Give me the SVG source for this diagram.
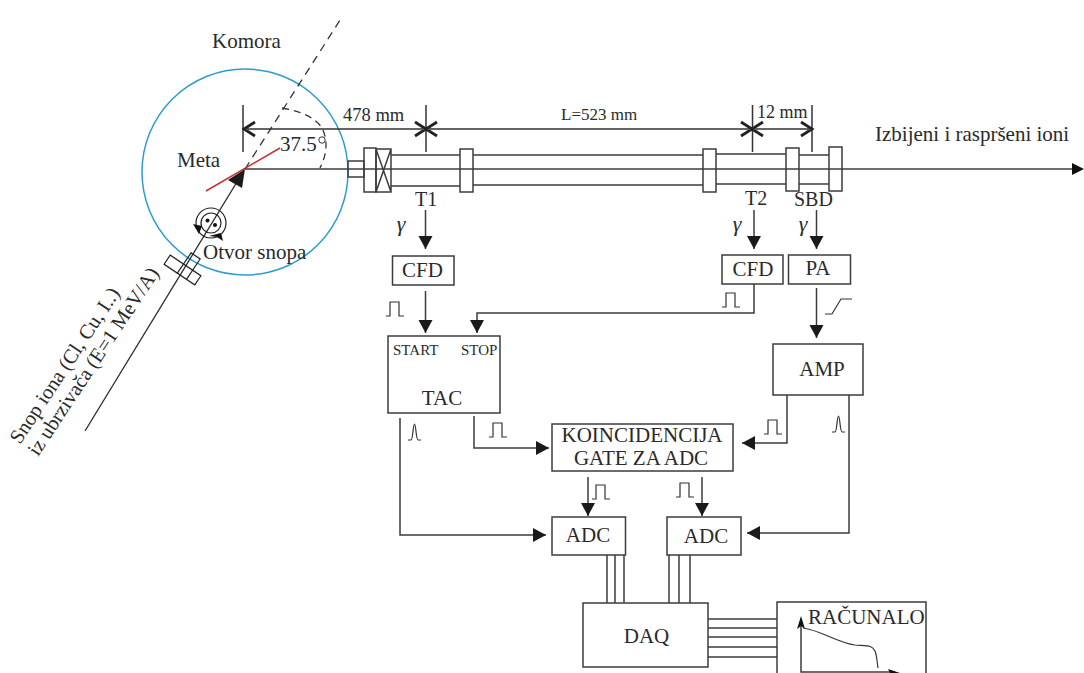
<svg xmlns="http://www.w3.org/2000/svg" width="1084" height="673" viewBox="0 0 1084 673">
<style>
text{font-family:"Liberation Serif","Times New Roman",serif;fill:#2a2a2a;font-size:21px}
.b{fill:#fff;stroke:#3c3c3c;stroke-width:1.5}
.n{fill:none;stroke:#3c3c3c;stroke-width:1.5}
.l{fill:none;stroke:#3c3c3c;stroke-width:1.5}
.a{fill:none;stroke:#3c3c3c;stroke-width:1.5;marker-end:url(#ah)}
.d{fill:none;stroke:#333;stroke-width:1.5}
.h{fill:none;stroke:#222;stroke-width:2.8}
.p{fill:none;stroke:#333;stroke-width:1.2}
.t{text-anchor:middle}
.s{font-size:15px}
.g{font-style:italic;font-size:22px;text-anchor:middle}
</style>
<defs>
<marker id="ah" markerUnits="userSpaceOnUse" markerWidth="15" markerHeight="15" refX="13" refY="7.500" orient="auto"><path d="M0,0.500L13,7.500L0,14.500Z" fill="#1a1a1a"/></marker>
<path id="pulse" d="M0,14H4V0H13V14H18"/>
<path id="peak" d="M0,16H3C5,16 5,0 6.500,0C8,0 8,16 10,16H13"/>
</defs>
<rect width="1084" height="673" fill="#fff"/>
<g id="chamber">
<circle cx="245" cy="172" r="103" fill="none" stroke="#2f9ccb" stroke-width="1.500"/>
<path d="M245,169L342,17" fill="none" stroke="#333" stroke-width="1.300" stroke-dasharray="8 6"/>
<path d="M282,108Q312,113 322,128Q331,146 320,168" fill="none" stroke="#333" stroke-width="1.300" stroke-dasharray="7 5"/>
<text x="212" y="48">Komora</text>
<text x="177" y="167">Meta</text>
<text x="280" y="151">37.5</text>
<circle cx="322" cy="140" r="3.200" fill="none" stroke="#333" stroke-width="1"/>
<text x="203" y="259">Otvor snopa</text>
</g>
<g id="beam-line">
<path d="M85,431L240,177" fill="none" stroke="#2a2a2a" stroke-width="1.300"/>
<path d="M245,169L228,180L242,188Z" fill="#1a1a1a"/>
<path d="M206,191L280,148" fill="none" stroke="#c8323a" stroke-width="1.500"/>
<g transform="translate(211,223)">
<circle r="15" fill="none" stroke="#222" stroke-width="1.200"/>
<circle r="10" fill="none" stroke="#222" stroke-width="1.200"/>
<circle cx="-3.500" cy="-2.500" r="2" fill="#111"/><circle cx="4" cy="2" r="2" fill="#111"/>
<path d="M-18,1L-9,3L-12,11Z" fill="#111"/><path d="M-2,13L10,10L12,18L6,14Z" fill="#111"/>
</g>
<g transform="translate(182.500,270) rotate(34)" fill="none" stroke="#222" stroke-width="1.200">
<rect x="-18.500" y="-5.500" width="37" height="11"/>
<path d="M-2.500,5.500V-19H8.500V5.500"/>
</g>
<text transform="translate(20,445) rotate(-56.500)" style="font-size:20.500px">Snop iona (Cl, Cu, I..)</text>
<text transform="translate(38,457) rotate(-56.500)" style="font-size:20.500px">iz ubrzivača (E=1 MeV/A)</text>
</g>
<g id="dimensions">
<path class="d" d="M243,129H812M243,105V152M426,105V152M752.500,105V152M812,105V152"/>
<path class="h" d="M255,122L244,129L255,136M415,122L426,129L415,136M437,122L426,129L437,136M741,122L752,129L741,136M763,122L752,129L763,136M801,122L812,129L801,136"/>
<text x="343" y="121" style="font-size:18.500px">478 mm</text>
<text x="561" y="120" style="font-size:17px">L=523 mm</text>
<text x="757" y="118" style="font-size:18px">12 mm</text>
</g>
<g id="tube">
<path class="l" d="M245,169H1072"/>
<path d="M1084,169L1072,163V175Z" fill="#111"/>
<rect class="n" x="348" y="161" width="16" height="16"/>
<rect class="n" x="364" y="148" width="12" height="44"/>
<path class="n" d="M376,149H391V192H376ZM376,149L391,192M391,149L376,192"/>
<path class="n" d="M391,155H460M391,186H460M473,155H703M473,185H703M716,154H786M716,184H786M799,155H829M799,184H829"/>
<rect class="n" x="460" y="149" width="13" height="43"/>
<rect class="n" x="703" y="149" width="13" height="43"/>
<rect class="n" x="786" y="148" width="13" height="43"/>
<rect class="n" x="829" y="147" width="13" height="44"/>
<text x="875" y="141">Izbijeni i raspršeni ioni</text>
<text x="415" y="206" style="font-size:20px">T1</text>
<text x="745" y="205" style="font-size:20px">T2</text>
<text x="794" y="206" style="font-size:20px">SBD</text>
</g>
<g id="connectors">
<path class="a" d="M425.500,210V249"/>
<path class="a" d="M425.500,291V333"/>
<path class="a" d="M754,284V313H477V333"/>
<path class="a" d="M754,210V249"/>
<path class="a" d="M816.500,210V249"/>
<path class="a" d="M816.500,288V338"/>
<path class="a" d="M787,395V443H742"/>
<path class="a" d="M849,395V533H747"/>
<path class="a" d="M400,418V535H546"/>
<path class="a" d="M474,416V448H549"/>
<path class="a" d="M588,477V516"/>
<path class="a" d="M702,477V516"/>
<path class="l" d="M607,555V603M615,555V603M624,555V603M669,555V603M679,555V603M690,555V603"/>
<path class="l" d="M708,619H777M708,628H777M708,637H777M708,647H777M708,657H777"/>
</g>
<g id="signals">
<text class="g" x="401" y="231">γ</text><text class="g" x="737" y="231">γ</text><text class="g" x="803" y="231">γ</text>
<use href="#pulse" class="p" x="386" y="302"/>
<use href="#pulse" class="p" x="722" y="293"/>
<use href="#peak" class="p" x="408" y="424"/>
<use href="#pulse" class="p" x="489" y="423"/>
<use href="#pulse" class="p" x="592" y="485"/>
<use href="#pulse" class="p" x="676" y="483"/>
<use href="#pulse" class="p" x="764" y="420"/>
<use href="#peak" class="p" x="832" y="416"/>
<path class="p" d="M825,314H832L841,299H852"/>
</g>
<g id="cfd1"><rect class="b" x="392.500" y="256" width="61.500" height="29"/><text class="t" x="422.500" y="277">CFD</text></g>
<g id="cfd2"><rect class="b" x="722" y="255" width="61" height="29"/><text class="t" x="753" y="276">CFD</text></g>
<g id="pa"><rect class="b" x="788.500" y="255" width="62" height="29"/><text class="t" x="818" y="275">PA</text></g>
<g id="tac"><rect class="b" x="388" y="336" width="112" height="77"/><text class="s" x="393" y="355">START</text><text class="s" x="461" y="355">STOP</text><text class="t" x="442" y="405">TAC</text></g>
<g id="amp"><rect class="b" x="773" y="344" width="90" height="51"/><text class="t" x="822" y="376">AMP</text></g>
<g id="koincidencija"><rect class="b" x="552" y="424" width="181" height="47"/><text class="t" x="642" y="442">KOINCIDENCIJA</text><text class="t" x="641" y="465">GATE ZA ADC</text></g>
<g id="adc1"><rect class="b" x="552" y="517" width="73.500" height="38"/><text class="t" x="588" y="542">ADC</text></g>
<g id="adc2"><rect class="b" x="667" y="517" width="74" height="38"/><text class="t" x="706" y="543">ADC</text></g>
<g id="daq"><rect class="b" x="583" y="603" width="125" height="64"/><text class="t" x="646.500" y="643">DAQ</text></g>
<g id="racunalo"><rect class="b" x="777" y="602" width="149" height="75"/>
<text x="808" y="624">RAČUNALO</text>
<path class="n" d="M801,620V672H895"/>
<path d="M801,616L797,629L801,626L805,629Z" fill="#111"/>
<path d="M888,669L900,673H890Z" fill="#111"/>
<path fill="none" stroke="#333" stroke-width="1.200" d="M803,628C820,630 838,643 855,645C868,646 872,645 875,651C877,656 877,662 878,668"/>
</g>
</svg>
